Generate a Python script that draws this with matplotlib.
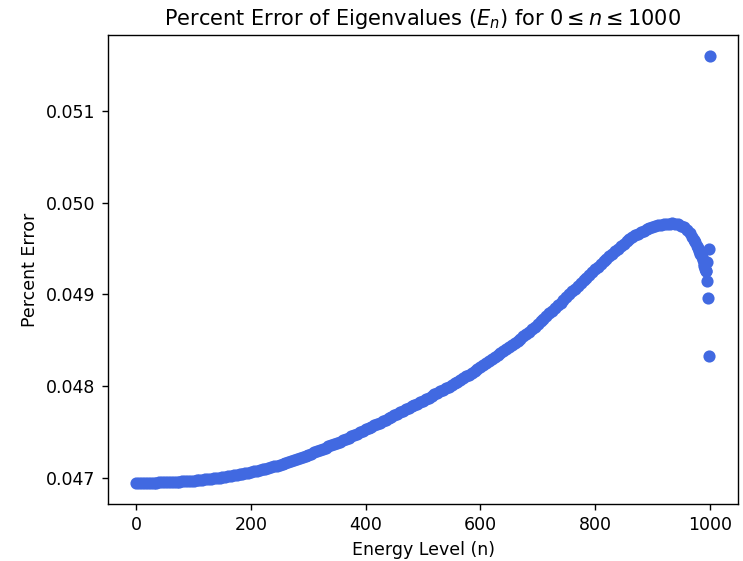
"""
Percent error of the computed eigenvalues E_n against the exact ones.
Values read off the reference figure.
"""

import matplotlib
matplotlib.use("Agg")
import matplotlib.pyplot as plt

# energy levels on a grid of 5, then the tail where the error turns over
levels_main = list(range(0, 931, 5))
errors_main = [
    0.046945, 0.046945, 0.046945, 0.046945, 0.046946, 0.046946, 0.046947, 0.046947,
    0.046948, 0.046949, 0.046950, 0.046951, 0.046953, 0.046954, 0.046956, 0.046957,
    0.046959, 0.046961, 0.046963, 0.046965, 0.046968, 0.046971, 0.046974, 0.046977,
    0.046981, 0.046984, 0.046988, 0.046992, 0.046996, 0.047000, 0.047005, 0.047010,
    0.047015, 0.047020, 0.047025, 0.047030, 0.047036, 0.047042, 0.047048, 0.047054,
    0.047060, 0.047067, 0.047074, 0.047081, 0.047089, 0.047097, 0.047105, 0.047113,
    0.047122, 0.047131, 0.047140, 0.047150, 0.047160, 0.047170, 0.047181, 0.047192,
    0.047203, 0.047214, 0.047226, 0.047238, 0.047250, 0.047262, 0.047275, 0.047288,
    0.047301, 0.047314, 0.047327, 0.047340, 0.047353, 0.047366, 0.047380, 0.047394,
    0.047408, 0.047422, 0.047437, 0.047451, 0.047466, 0.047480, 0.047495, 0.047510,
    0.047525, 0.047540, 0.047555, 0.047570, 0.047586, 0.047601, 0.047617, 0.047632,
    0.047648, 0.047664, 0.047680, 0.047696, 0.047712, 0.047728, 0.047744, 0.047760,
    0.047776, 0.047792, 0.047808, 0.047824, 0.047840, 0.047856, 0.047873, 0.047890,
    0.047907, 0.047924, 0.047941, 0.047958, 0.047975, 0.047992, 0.048010, 0.048028,
    0.048047, 0.048066, 0.048085, 0.048104, 0.048124, 0.048144, 0.048164, 0.048184,
    0.048205, 0.048226, 0.048247, 0.048268, 0.048290, 0.048311, 0.048333, 0.048354,
    0.048376, 0.048398, 0.048420, 0.048443, 0.048466, 0.048490, 0.048515, 0.048540,
    0.048566, 0.048592, 0.048619, 0.048647, 0.048675, 0.048703, 0.048732, 0.048761,
    0.048790, 0.048819, 0.048849, 0.048879, 0.048909, 0.048939, 0.048970, 0.049001,
    0.049031, 0.049061, 0.049091, 0.049121, 0.049151, 0.049181, 0.049211, 0.049241,
    0.049270, 0.049299, 0.049328, 0.049357, 0.049386, 0.049414, 0.049442, 0.049469,
    0.049496, 0.049523, 0.049550, 0.049575, 0.049598, 0.049620, 0.049641, 0.049660,
    0.049678, 0.049694, 0.049709, 0.049722, 0.049735, 0.049744, 0.049752, 0.049758,
    0.049763, 0.049767, 0.049770,
]

levels_tail = [935, 940, 945, 950, 955, 960, 965, 970, 973, 975, 978, 980, 982,
               984, 986, 988, 990, 991, 992, 993,
               994, 995, 996, 997, 998, 999, 1000]
errors_tail = [0.049772, 0.049769, 0.049762, 0.049748, 0.049728, 0.049700,
               0.049665, 0.049620, 0.049590, 0.049565, 0.049528, 0.049500,
               0.049470, 0.049440, 0.049405, 0.049370, 0.049330, 0.049305,
               0.049280, 0.049250,
               0.049255, 0.049146, 0.049346, 0.048957, 0.049495, 0.048328,
               0.051594]

levels = levels_main + levels_tail
errors = errors_main + errors_tail

DPI = 125
fig = plt.figure(figsize=(743 / DPI, 561 / DPI), dpi=DPI)
ax = fig.add_axes([0.145, 0.1016, 0.8487, 0.836])

# snap=False keeps the dense markers from stair-stepping on the pixel grid
ax.scatter(levels, errors, color="royalblue", snap=False)

ax.set_title(r"Percent Error of Eigenvalues ($E_n$) for $0 \leq n \leq 1000$")
ax.set_xlabel("Energy Level (n)")
ax.set_ylabel("Percent Error")

fig.savefig("out.png", dpi=DPI)
